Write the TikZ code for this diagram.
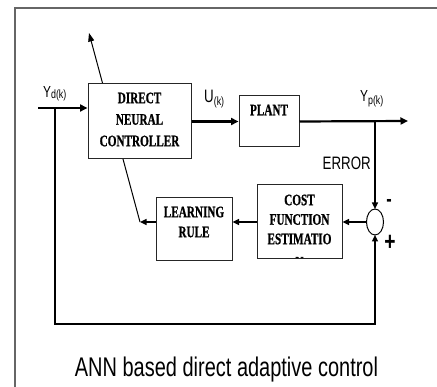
\documentclass[tikz,border=0pt]{standalone}
\usepackage{fontspec}
\setmainfont{Liberation Serif}[FakeStretch=0.7, BoldFeatures={FakeBold=0.8}]
\newfontfamily\lblfont{Liberation Sans}[FakeStretch=0.74]
\usetikzlibrary{arrows.meta,calc}
\newcommand\lblsub[3]{#1\raisebox{-#3}{\fontsize{12}{12}\selectfont #2}}
\tikzset{
  x=1pt, y=-1pt,
  box/.style={draw=black!85, line width=1pt, fill=white, inner sep=0pt},
  boxtext/.style={font=\fontsize{16}{20}\selectfont\bfseries, align=center, inner sep=0pt},
  lbl/.style={font=\lblfont\fontsize{16}{16}\selectfont, inner sep=0pt},
  sig/.style={line width=2.2pt, -{Triangle[length=7.5pt,width=7pt]}},
  fbarrow/.style={line width=1.4pt, -{Triangle[length=6.5pt,width=6pt]}},
  adj/.style={line width=1pt, -{Triangle[length=8.5pt,width=6pt]}},
  frame/.style={draw=black!60, line width=2pt}
}
\begin{document}
\begin{tikzpicture}
\useasboundingbox (0,0) rectangle (437,387);
% outer frame
\draw[frame] (15,387) -- (15,8) -- (437,8);

% coordinates
\coordinate (yd) at (38,108);
\coordinate (ydtap) at (55,108);
\coordinate (fbcorner) at (55,324);
\coordinate (ypend) at (408,121);
\coordinate (yptap) at (375,121);
\coordinate (adjbase) at (140,222);
\coordinate (adjtip) at (89,33);

% adjustment arrow drawn behind the controller box
\draw[adj] (adjbase) -- (adjtip);

% blocks
\node[box, minimum width=103pt, minimum height=75pt] (dnc) at (139.5,121.5) {};
\node[boxtext, font=\fontsize{16}{21.5}\selectfont\bfseries] (dnctext) at (139.5,119.5) {DIRECT\\NEURAL\\CONTROLLER};
\node[box, minimum width=60pt, minimum height=51pt] (plant) at (269,121.5) {};
\node[boxtext] (planttext) at (269,110) {PLANT};
\node[box, minimum width=85pt, minimum height=74pt] (cost) at (299.5,222) {};
\node[boxtext, font=\fontsize{16}{19.5}\selectfont\bfseries] (costtext) at (299.5,219.5) {COST\\FUNCTION\\ESTIMATIO};
\begin{scope}
  \clip ($(cost.south west)+(1,-1.5)$) rectangle ($(cost.north east)+(-1,0)$);
  \node[boxtext, anchor=base] (costn) at (299.5,267.5) {N};
\end{scope}
\node[box, minimum width=76pt, minimum height=63pt] (lr) at (194,229.5) {};
\node[boxtext] (lrtext) at (194,222) {LEARNING\\RULE};
\draw[line width=1pt, fill=white] (375,222) ellipse [x radius=8.5pt, y radius=13pt];
\coordinate (sum) at (375,222);
\coordinate (sumN) at (375,209);
\coordinate (sumS) at (375,235);
\coordinate (sumW) at (366.5,222);

% signal connections
\draw[sig] (yd) -- (yd -| dnc.west);
\draw[sig] (dnc.east |- plant.west) -- (plant.west);
\draw[sig] (plant.east) -- (ypend);
\draw[fbarrow] (yptap) -- (sumN);
\draw[fbarrow] (ydtap) -- (fbcorner) -- (fbcorner -| sumS) -- (sumS);
\draw[fbarrow] (sumW) -- (sumW -| cost.east);
\draw[fbarrow] (cost.west |- sumW) -- (lr.east |- sumW);
\draw[fbarrow] (lr.west |- adjbase) -- (adjbase);

% labels
\node[lbl, anchor=base west] (ydl) at (43,98) {\lblsub{Y}{d(k)}{1pt}};
\node[lbl, anchor=base west, font=\lblfont\fontsize{18}{18}\selectfont] (ul) at (204,103) {\lblsub{U}{(k)}{3pt}};
\node[lbl, anchor=base west] (ypl) at (360,102) {\lblsub{Y}{p(k)}{3pt}};
\node[lbl, anchor=base east, font=\lblfont\fontsize{18}{18}\selectfont] (err) at (371,170) {ERROR};
\node[lbl, font=\lblfont\bfseries\fontsize{22}{22}\selectfont] (minus) at (389,203) {-};
\node[lbl, font=\lblfont\bfseries\fontsize{26}{26}\selectfont] (plus) at (390,243) {+};

% caption
\node[lbl, anchor=base, font=\lblfont\fontsize{27}{30}\selectfont] (cap) at (226.5,377) {ANN based direct adaptive control};
\end{tikzpicture}
\end{document}
